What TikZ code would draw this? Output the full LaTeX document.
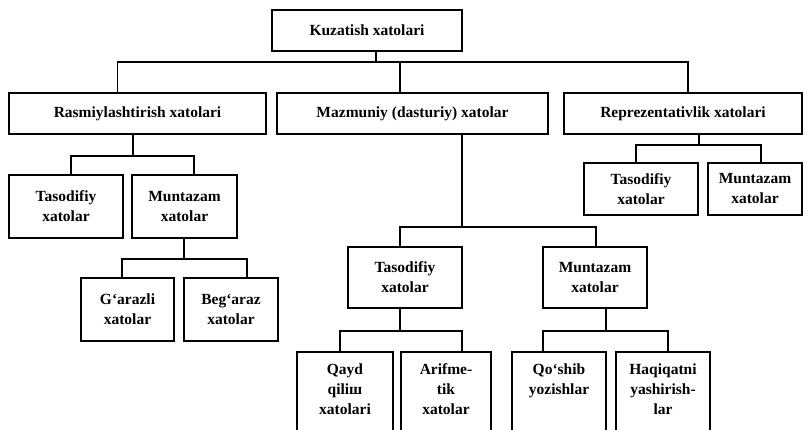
\documentclass[tikz,border=0pt]{standalone}
\usepackage{fontspec}
\setmainfont{Liberation Serif}
\begin{document}
\begin{tikzpicture}[x=1pt, y=-1pt, line width=1.6pt,
	every node/.style={ draw, line width=1.6pt, align=center, inner sep=0pt, font=\fontsize{15.5}{20}\selectfont\bfseries },
	wide/.style={ minimum height=41pt },
	tall/.style={ minimum height=63pt },
	low/.style={ minimum height=94pt, anchor=north }]
		\useasboundingbox (0,0) rectangle (808,430);
		\clip (0,0) rectangle (808,430);
		\node[wide, minimum width=190pt] (K) at (367,30.5) {Kuzatish xatolari};
		\node[wide, minimum width=257pt] (R) at (137.5,113.5) {Rasmiylashtirish xatolari};
		\node[wide, minimum width=271pt] (M) at (412.5,113.5) {Mazmuniy (dasturiy) xatolar};
		\node[wide, minimum width=238pt] (P) at (683,113.5) {Reprezentativlik xatolari};
		\node[tall, minimum width=114pt] (T1) at (66,206.5) {Tasodifiy\\xatolar};
		\node[tall, minimum width=105pt] (U1) at (184.5,206.5) {Muntazam\\xatolar};
		\node[tall, minimum width=93pt] (G) at (127.5,309.5) {G`arazli\\xatolar};
		\node[tall, minimum width=94pt] (B) at (231,309.5) {Beg`araz\\xatolar};
		\node[minimum height=52pt, minimum width=114pt] (T3) at (641,189) {Tasodifiy\\xatolar};
		\node[minimum height=52pt, minimum width=94pt] (U3) at (755,189) {Muntazam\\xatolar};
		\node[minimum height=61pt, minimum width=114pt] (T2) at (405,277.5) {Tasodifiy\\xatolar};
		\node[minimum height=61pt, minimum width=104pt] (U2) at (595,277.5) {Muntazam\\xatolar};
		\node[low, minimum width=96pt] (Q) at (345,351) {\parbox[c][94pt][t]{90pt}{\centering\vspace{12pt}Qayd\\qiliш\\xatolari}};
		\node[low, minimum width=90pt] (A) at (446,351) {\parbox[c][94pt][t]{86pt}{\centering\vspace{12pt}Arifme-\\tik\\xatolar}};
		\node[low, minimum width=94pt] (S) at (559,351) {\parbox[c][94pt][t]{90pt}{\centering\vspace{12pt}Qo`shib\\yozishlar}};
		\node[low, minimum width=94pt] (H) at (663,351) {\parbox[c][94pt][t]{90pt}{\centering\vspace{12pt}Haqiqatni\\yashirish-\\lar}};
		\draw ([xshift=9pt]K.south) -- ++(0,10) -| ([xshift=-20pt]R.north);
		\draw ([xshift=9pt]K.south) ++(0,10) -| ([xshift=-12.5pt]M.north);
		\draw ([xshift=9pt]K.south) ++(0,10) -| ([xshift=5pt]P.north);
		\draw ([xshift=-4.5pt]R.south) -- ++(0,21) -| ([xshift=5pt]T1.north);
		\draw ([xshift=-4.5pt]R.south) ++(0,21) -| ([xshift=9.5pt]U1.north);
		\draw ([xshift=-0.5pt]U1.south) -- ++(0,20) -| ([xshift=-5.5pt]G.north);
		\draw ([xshift=-0.5pt]U1.south) ++(0,20) -| ([xshift=16pt]B.north);
		\draw ([xshift=16pt]P.south) -- ++(0,10) -| ([xshift=-5pt]T3.north);
		\draw ([xshift=16pt]P.south) ++(0,10) -| ([xshift=6pt]U3.north);
		\draw ([xshift=49.5pt]M.south) -- ++(0,92) -| ([xshift=-5pt]T2.north);
		\draw ([xshift=49.5pt]M.south) ++(0,92) -| ([xshift=1pt]U2.north);
		\draw ([xshift=-5pt]T2.south) -- ++(0,22) -| ([xshift=-5pt]Q.north);
		\draw ([xshift=-5pt]T2.south) ++(0,22) -| ([xshift=16pt]A.north);
		\draw ([xshift=11pt]U2.south) -- ++(0,22) -| ([xshift=-16pt]S.north);
		\draw ([xshift=11pt]U2.south) ++(0,22) -| ([xshift=5pt]H.north);
	\end{tikzpicture}
\end{document}
